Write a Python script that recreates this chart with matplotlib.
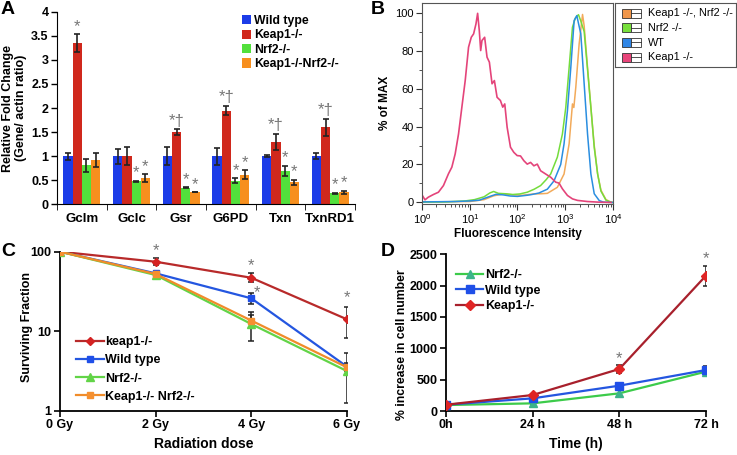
import matplotlib.pyplot as plt
import numpy as np
from matplotlib.patches import Rectangle
from matplotlib.ticker import MultipleLocator, LogLocator, NullFormatter

plt.rcParams['font.family'] = ['Liberation Sans', 'DejaVu Sans']

# ---- Panel A: relative fold change ----
genes = ['Gclm', 'Gclc', 'Gsr', 'G6PD', 'Txn', 'TxnRD1']
a_names = ['Wild type', 'Keap1-/-', 'Nrf2-/-', 'Keap1-/-Nrf2-/-']
a_wt = [1.0, 1.0, 1.0, 1.0, 1.0, 1.0]
a_wt_err = [0.07, 0.15, 0.19, 0.18, 0.02, 0.06]
a_keap = [3.35, 1.0, 1.5, 1.95, 1.3, 1.6]
a_keap_err = [0.18, 0.19, 0.06, 0.10, 0.17, 0.18]
a_nrf2 = [0.81, 0.48, 0.35, 0.49, 0.70, 0.23]
a_nrf2_err = [0.14, 0.01, 0.01, 0.05, 0.10, 0.01]
a_kn = [0.92, 0.55, 0.25, 0.62, 0.46, 0.25]
a_kn_err = [0.14, 0.08, 0.0, 0.09, 0.05, 0.04]
a_sig = [['', '*', '', ''],
         ['', '', '*', '*'],
         ['', '*\u2020', '*', '*'],
         ['', '*\u2020', '*', '*'],
         ['', '*\u2020', '*', '*'],
         ['', '*\u2020', '*', '*']]

# ---- Panel B: flow histogram (log10 intensity, % of max) ----
b_pink_logx = [0.0, 0.063, 0.133, 0.239, 0.344, 0.449, 0.554, 0.625, 0.695, 0.765, 0.835,
               0.905, 0.975, 1.032, 1.081, 1.13, 1.165, 1.2, 1.229, 1.256, 1.312, 1.362,
               1.411, 1.467, 1.516, 1.572, 1.642, 1.691, 1.733, 1.783, 1.853, 1.923, 1.993,
               2.063, 2.133, 2.204, 2.274, 2.343, 2.414, 2.484, 2.589, 2.695, 2.8, 2.87,
               2.94, 3.046, 3.151, 3.256, 3.467, 3.678, 3.96]
b_pink_y = [4.0, 1.4, 2.8, 4.2, 5.4, 8.9, 15.1, 18.6, 25.6, 36.1, 50.2,
            64.2, 81.8, 87, 88.8, 94, 99.6, 90.5, 80, 85.3, 87, 76.5,
            73.9, 62.5, 64.2, 55.4, 53.7, 50.2, 51.9, 39.6, 29.1, 26.4, 24.7,
            24.5, 22, 20.2, 21.1, 19.3, 20.2, 16.7, 15, 13.3, 10.7, 10.2,
            7.2, 3.7, 1.9, 1.1, 0.5, 0.2, 0]
b_blue_logx = [0.0, 0.7, 1.0, 1.2, 1.4, 1.55, 1.7, 1.85, 2.0, 2.2, 2.3, 2.45, 2.625, 2.765,
               2.905, 2.975, 3.046, 3.116, 3.186, 3.242, 3.28, 3.326, 3.396, 3.467, 3.537,
               3.607, 3.712, 3.8, 4.0]
b_blue_y = [0.3, 0.5, 0.8, 1.2, 3.0, 4.3, 4.0, 3.4, 3.2, 3.8, 4.2, 5.0, 7.0, 11.4,
            20, 30.9, 48.4, 71, 95.8, 98.4, 94, 88.8, 62.5, 36, 15,
            4.6, 1.0, 0.2, 0]
b_green_logx = [0.0, 0.5, 0.9, 1.1, 1.3, 1.42, 1.5, 1.6, 1.75, 1.9, 2.05, 2.204, 2.35, 2.484,
                2.6, 2.695, 2.835, 2.94, 3.011, 3.081, 3.151, 3.21, 3.277, 3.32, 3.396,
                3.467, 3.537, 3.607, 3.678, 3.747, 3.853, 3.958, 4.0]
b_green_y = [0.2, 0.3, 0.8, 1.5, 3.0, 5.0, 5.8, 4.8, 4.6, 4.2, 4.5, 5.4, 7.0, 8.9,
             12, 15, 23.9, 36, 50, 71, 92.3, 97, 98.9, 96, 90,
             70, 50, 29, 15, 6, 1.2, 0.1, 0]
b_orange_logx = [0.0, 1.0, 1.3, 1.5, 1.7, 1.9, 2.1, 2.343, 2.5, 2.625, 2.835, 2.975, 3.081,
                 3.151, 3.18, 3.221, 3.291, 3.362, 3.396, 3.467, 3.537, 3.607, 3.678,
                 3.747, 3.853, 3.958, 4.0]
b_orange_y = [0.3, 0.5, 1.5, 3.5, 4.5, 4.0, 3.8, 4.5, 4.6, 4.8, 8.0, 15, 30.9,
              51.9, 50, 60.7, 83.5, 99, 93, 71, 50, 30, 15,
              6.5, 1.5, 0.2, 0]
b_names = ['Keap1 -/-, Nrf2 -/-', 'Nrf2 -/-', 'WT', 'Keap1 -/-']

# ---- Panel C: surviving fraction ----
doses = [0, 2, 4, 6]
dose_labels = ['0 Gy', '2 Gy', '4 Gy', '6 Gy']
c_keap = [100, 74.8, 47, 14.1]
c_keap_lo = [100, 68, 41, 8.1]
c_keap_hi = [100, 82.5, 53.4, 20.3]
c_wt = [100, 53.4, 25.9, 3.58]
c_wt_lo = [100, 50, 21.7, 3.3]
c_wt_hi = [100, 57, 30.5, 3.9]
c_nrf2 = [100, 50.9, 12.3, 3.15]
c_nrf2_lo = [100, 49, 7.5, 1.24]
c_nrf2_hi = [100, 53, 17.3, 5.26]
c_kn = [100, 52.4, 13.6, 3.51]
c_kn_lo = [100, 50, 11, 3.2]
c_kn_hi = [100, 55, 16, 4.0]

# ---- Panel D: growth ----
hours = [0, 24, 48, 72]
hour_labels = ['0h', '24 h', '48 h', '72 h']
d_nrf2 = [95, 122, 282, 628]
d_nrf2_err = [10, 20, 50, 40]
d_wt = [100, 202, 404, 654]
d_wt_err = [10, 20, 30, 60]
d_keap = [100, 255, 670, 2160]
d_keap_err = [10, 20, 60, 160]

W, H = 737, 455
fig = plt.figure(figsize=(W / 100, H / 100), dpi=100)


def box(l, r, t, b):
    return [l / W, 1 - b / H, (r - l) / W, (b - t) / H]


bold = dict(fontweight='bold')
star_col = '#777777'

# ================= A =================
ax = fig.add_axes(box(57, 355, 11.7, 204.5))
cols_a = ['#1c3ce8', '#d0281c', '#52e03c', '#f78f1e']
vals = [a_wt, a_keap, a_nrf2, a_kn]
errs = [a_wt_err, a_keap_err, a_nrf2_err, a_kn_err]
x = np.arange(len(genes))
bw = 0.1875
for i in range(4):
    xi = x + (i - 1.5) * bw
    ax.bar(xi, vals[i], bw, color=cols_a[i], label=a_names[i], zorder=2)
    ax.errorbar(xi, vals[i], yerr=errs[i], fmt='none', ecolor='#222222',
                elinewidth=1.2, capsize=2.5, capthick=1.2, zorder=3)
    for j in range(len(genes)):
        s = a_sig[j][i]
        if s:
            ax.text(xi[j], vals[i][j] + errs[i][j] + 0.01, s, ha='center', va='bottom',
                    fontsize=12, color=star_col)
ax.set_xlim(-0.5, 5.5)
ax.set_ylim(0, 4)
ax.spines['top'].set_visible(False)
ax.spines['right'].set_visible(False)
ax.set_xticks(x)
ax.set_xticklabels(genes, fontsize=9.5, **bold)
ax.set_xticks(np.arange(-0.5, 6, 1), minor=True)
ax.tick_params(axis='x', which='major', length=0, pad=6)
ax.tick_params(axis='x', which='minor', length=4, direction='out')
ax.set_yticks(np.arange(0, 4.01, 0.5))
ax.set_yticklabels(['0', '0.5', '1', '1.5', '2', '2.5', '3', '3.5', '4'], fontsize=9, **bold)
ax.tick_params(axis='y', length=4, direction='out', width=1, pad=2)
ax.set_ylabel('Relative Fold Change\n(Gene/ actin ratio)', fontsize=9, labelpad=3,
              linespacing=1.15, **bold)
ax.legend(loc='upper left', bbox_to_anchor=(242 / W, 1 - 15 / H),
          bbox_transform=fig.transFigure, frameon=False, handlelength=0.7,
          handleheight=0.8, handletextpad=0.3, labelspacing=0.2, borderpad=0,
          borderaxespad=0, prop=dict(size=8.8, weight='bold'))
fig.text(1 / W, 1 - 9 / H, 'A', fontsize=14, va='center', **bold)

# ================= B =================
bx = fig.add_axes(box(422, 613, 2.7, 204))
bx.plot(10 ** np.array(b_orange_logx), b_orange_y, color='#f2aa5a', lw=1.1)
bx.plot(10 ** np.array(b_green_logx), b_green_y, color='#74dc3c', lw=1.1)
bx.plot(10 ** np.array(b_blue_logx), b_blue_y, color='#2a8ee0', lw=1.1)
bx.plot(10 ** np.array(b_pink_logx), b_pink_y, color='#e4447a', lw=1.2)
bx.set_xscale('log')
bx.set_xlim(1, 1e4)
bx.set_ylim(-0.8, 105.2)
bx.set_yticks(range(0, 101, 20))
bx.yaxis.set_minor_locator(MultipleLocator(10))
bx.xaxis.set_major_locator(LogLocator(base=10, numticks=10))
bx.xaxis.set_minor_locator(LogLocator(base=10, subs=np.arange(2, 10), numticks=20))
bx.xaxis.set_minor_formatter(NullFormatter())
bx.tick_params(labelsize=8, direction='out', length=4, color='#333333', pad=2)
bx.tick_params(which='minor', direction='out', length=2.5, color='#333333')
for s in bx.spines.values():
    s.set_color('#555555')
bx.set_ylabel('% of MAX', fontsize=8.5, labelpad=3, **bold)
bx.set_xlabel('Fluorescence Intensity', fontsize=8.5, labelpad=1, **bold)
fig.text(371 / W, 1 - 9 / H, 'B', fontsize=14, va='center', **bold)

lg = fig.add_axes(box(615, 736, 2.7, 66.7))
lg.set_xlim(0, 121)
lg.set_ylim(64, 0)
lg.set_xticks([])
lg.set_yticks([])
for s in lg.spines.values():
    s.set_color('#555555')
leg_cols = ['#f0964a', '#78e03c', '#2f86e6', '#e8447a']
for k, (nm, c) in enumerate(zip(b_names, leg_cols)):
    yc = 10.6 + k * 14.6
    lg.add_patch(Rectangle((6.5, yc - 4.5), 9, 9, facecolor=c, edgecolor='#333333', lw=0.6))
    lg.add_patch(Rectangle((15.5, yc - 4.5), 10, 9, facecolor='white', edgecolor='#333333', lw=0.6))
    lg.plot([15.5, 25.5], [yc, yc], color='#333333', lw=0.6)
    lg.text(33, yc, nm, va='center', ha='left', fontsize=7.8)

# ================= C =================
cx = fig.add_axes(box(60, 347, 251.7, 410.7))
c_series = [
    ('keap1-/-', c_keap, c_keap_lo, c_keap_hi, '#b82a2a', '#d42222', 'D', 4.5),
    ('Wild type', c_wt, c_wt_lo, c_wt_hi, '#2456e0', '#1f4fe8', 's', 5),
    ('Nrf2-/-', c_nrf2, c_nrf2_lo, c_nrf2_hi, '#62d447', '#62d447', '^', 5.5),
    ('Keap1-/- Nrf2-/-', c_kn, c_kn_lo, c_kn_hi, '#f08c2a', '#f59030', 's', 5),
]
for nm, y, lo, hi, lc, mc, mk, ms in c_series:
    y = np.array(y)
    yerr = [y - np.array(lo), np.array(hi) - y]
    cx.errorbar(doses, y, yerr=yerr, fmt='none', ecolor='#222222', elinewidth=1.1,
                capsize=2.5, capthick=1.1, zorder=2)
    cx.plot(doses, y, color=lc, lw=1.6, marker=mk, ms=ms, mfc=mc, mec=mc,
            label=nm, zorder=3)
c_star_x = [2, 4, 4.12, 6]
c_star_y = [84, 54, 24.5, 21]
for sx, sy in zip(c_star_x, c_star_y):
    cx.text(sx, sy, '*', ha='center', va='bottom', fontsize=12, color=star_col)
cx.set_yscale('log')
cx.set_ylim(1, 100)
cx.set_xlim(0, 6)
cx.set_yticks([1, 10, 100])
cx.set_yticklabels(['1', '10', '100'])
cx.yaxis.set_minor_locator(plt.NullLocator())
cx.set_xticks(doses)
cx.set_xticklabels(dose_labels)
for lab in cx.get_xticklabels() + cx.get_yticklabels():
    lab.set_fontweight('bold')
    lab.set_fontsize(9)
cx.tick_params(direction='out', length=4, width=1.2, pad=2)
cx.spines['top'].set_visible(False)
cx.spines['right'].set_visible(False)
for s in ['left', 'bottom']:
    cx.spines[s].set_linewidth(1.3)
cx.set_ylabel('Surviving Fraction', fontsize=9, **bold)
cx.yaxis.set_label_coords((33 - 60) / 287, (410.7 - 327) / 159)
cx.set_xlabel('Radiation dose', fontsize=10, labelpad=4, **bold)
cx.legend(loc='upper left', bbox_to_anchor=(76 / W, 1 - 336 / H),
          bbox_transform=fig.transFigure, frameon=False, handlelength=2.2,
          handletextpad=0.1, labelspacing=0.5, borderpad=0, borderaxespad=0,
          prop=dict(size=9, weight='bold'))
fig.text(1 / W, 1 - 251 / H, 'C', fontsize=14, va='center', **bold)

# ================= D =================
dx = fig.add_axes(box(446, 706, 254.3, 411))
d_series = [
    ('Nrf2-/-', d_nrf2, d_nrf2_err, '#3ccb4a', '#3cb48a', '^', 5.5),
    ('Wild type', d_wt, d_wt_err, '#2456e0', '#1f4fe8', 's', 5.5),
    ('Keap1-/-', d_keap, d_keap_err, '#a8202c', '#e02424', 'D', 5),
]
for nm, y, e, lc, mc, mk, ms in d_series:
    dx.errorbar(hours, y, yerr=e, fmt='none', ecolor='#222222', elinewidth=1.1,
                capsize=2.5, capthick=1.1, zorder=2)
    dx.plot(hours, y, color=lc, lw=1.6, marker=mk, ms=ms, mfc=mc, mec=mc,
            label=nm, zorder=3)
d_star_x = [48, 72]
d_star_y = [720, 2310]
for sx, sy in zip(d_star_x, d_star_y):
    dx.text(sx, sy, '*', ha='center', va='bottom', fontsize=12, color=star_col)
dx.set_ylim(0, 2500)
dx.set_xlim(0, 72)
dx.set_yticks(range(0, 2501, 500))
dx.set_xticks(hours)
dx.set_xticklabels(hour_labels)
for lab in dx.get_xticklabels() + dx.get_yticklabels():
    lab.set_fontweight('bold')
    lab.set_fontsize(9)
dx.tick_params(direction='out', length=4, width=1.2, pad=2)
dx.spines['top'].set_visible(False)
dx.spines['right'].set_visible(False)
for s in ['left', 'bottom']:
    dx.spines[s].set_linewidth(1.3)
dx.set_ylabel('% increase in cell number', fontsize=8.8, **bold)
dx.yaxis.set_label_coords((408 - 446) / 260, (411 - 345) / 156.7)
dx.set_xlabel('Time (h)', fontsize=10, labelpad=4, **bold)
dx.legend(loc='upper left', bbox_to_anchor=(456 / W, 1 - 269 / H),
          bbox_transform=fig.transFigure, frameon=False, handlelength=2.2,
          handletextpad=0.1, labelspacing=0.3, borderpad=0, borderaxespad=0,
          prop=dict(size=9, weight='bold'))
fig.text(381 / W, 1 - 252 / H, 'D', fontsize=14, va='center', **bold)

fig.savefig('out.png', dpi=100)
